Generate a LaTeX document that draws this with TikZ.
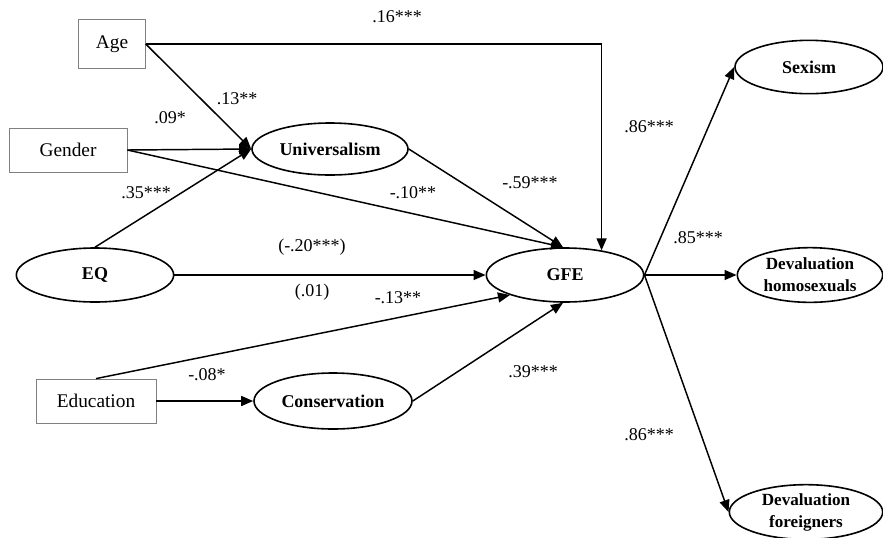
\documentclass[tikz,border=0pt]{standalone}
\usepackage{fontspec}
\setmainfont{Liberation Serif}
\usetikzlibrary{shapes.geometric,arrows.meta}

\tikzset{
  varbox/.style={draw={rgb,255:red,128;green,128;blue,128}, line width=0.6pt, rectangle,
    inner sep=0pt, font=\fontsize{14.5}{17}\selectfont},
  latent/.style={draw, ellipse, line width=1.2pt, inner sep=0pt,
    font=\fontsize{13.5}{16.5}\selectfont\bfseries, align=center},
  path/.style={line width=1.1pt, -{Triangle[length=9pt,width=7.5pt]}},
  coef/.style={font=\fontsize{13.5}{16}\selectfont}
}

\begin{document}
\begin{tikzpicture}[x=0.75pt,y=0.75pt,yscale=-1,xscale=1]
        \useasboundingbox (0,0) rectangle (883,537);
        % observed variables
        \node [varbox, minimum width=50pt, minimum height=37pt] (age) at (112,44) {Age};
        \node [varbox, minimum width=88.5pt, minimum height=33pt] (gender) at (68,150) {Gender};
        \node [varbox, minimum width=90pt, minimum height=33pt] (edu) at (96,401) {Education};
        % latent variables
        \node [latent, minimum width=117pt, minimum height=39pt] (univ) at (330,149) {Universalism};
        \node [latent, minimum width=118pt, minimum height=40.5pt] (eq) at (95,275) {EQ};
        \node [latent, minimum width=118.5pt, minimum height=42pt] (cons) at (333,401) {Conservation};
        \node [latent, minimum width=118pt, minimum height=40.5pt] (gfe) at (565,275) {GFE};
        \node [latent, minimum width=111pt, minimum height=40pt] (sex) at (809,67) {Sexism};
        \node [latent, minimum width=109pt, minimum height=41pt, font=\fontsize{12.8}{16.5}\selectfont\bfseries] (hom) at (810,275) {Devaluation\\homosexuals};
        \node [latent, minimum width=115pt, minimum height=41pt, font=\fontsize{12.8}{16.5}\selectfont\bfseries] (for) at (806,512) {Devaluation\\foreigners};
        % paths
        \draw [path] (age.east) -| (gfe.34);
        \draw [path] (age.east) -- (univ.west);
        \draw [path] (gender.east) -- (univ.west);
        \draw [path] (eq.north) -- (univ.west);
        \draw [path] (gender.east) -- ([xshift=-1.5pt]gfe.north);
        \draw [path] (univ.east) -- ([xshift=-1.5pt]gfe.north);
        \draw [path] (eq.east) -- (gfe.west);
        \draw [path] (edu.north) -- (gfe.200);
        \draw [path] (edu.east) -- (cons.west);
        \draw [path] (cons.east) -- ([xshift=-1.5pt]gfe.south);
        \draw [path] (gfe.east) -- (sex.west);
        \draw [path] (gfe.east) -- (hom.west);
        \draw [path] (gfe.east) -- (for.west);
        % coefficients
        \node [coef] (c1) at (397,17) {.16***};
        \node [coef] (c2) at (237,99) {.13**};
        \node [coef] (c3) at (170,118) {.09*};
        \node [coef] (c4) at (146,193) {.35***};
        \node [coef] (c5) at (413,193) {-.10**};
        \node [coef] (c6) at (530,183) {-.59***};
        \node [coef] (c7) at (312,247) {(-.20***)};
        \node [coef] (c8) at (312,292) {(.01)};
        \node [coef] (c9) at (398,298) {-.13**};
        \node [coef] (c10) at (207,375) {-.08*};
        \node [coef] (c11) at (533,372) {.39***};
        \node [coef] (c12) at (649,127) {.86***};
        \node [coef] (c13) at (698,238) {.85***};
        \node [coef] (c14) at (649,435) {.86***};
\end{tikzpicture}
\end{document}
